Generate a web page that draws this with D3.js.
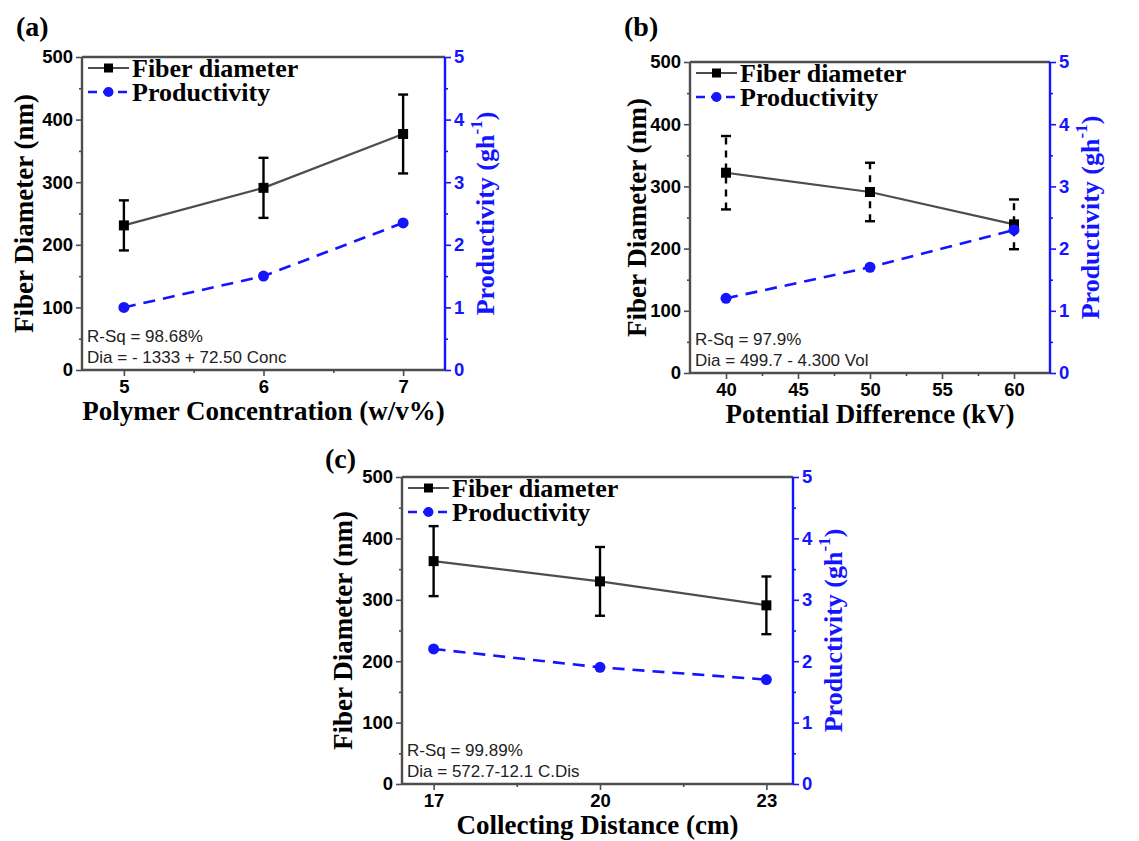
<!DOCTYPE html>
<html>
<head>
<meta charset="utf-8">
<script src="https://cdn.jsdelivr.net/npm/d3@7/dist/d3.min.js"></script>
<style>
  html, body { margin: 0; padding: 0; background: #fff; }
  svg { display: block; }
</style>
</head>
<body>
<svg id="chart" width="1139" height="841"></svg>
<script>
// ---------- data ----------
const panelLabels = ["(a)", "(b)", "(c)"];
const xTitles = ["Polymer Concentration (w/v%)", "Potential Difference (kV)", "Collecting Distance (cm)"];
const yTitle = "Fiber Diameter (nm)";
const yRightTitle = "Productivity (gh";
const legendLabels = ["Fiber diameter", "Productivity"];

const concA = [5, 6, 7];
const diamA = [231, 291, 377];
const errA = [40, 48, 63];
const prodA = [1.0, 1.5, 2.35];
const rsqA = "R-Sq = 98.68%";
const eqA = "Dia = - 1333 + 72.50 Conc";

const voltB = [40, 50, 60];
const diamB = [322, 291, 239];
const errB = [59, 47, 40];
const prodB = [1.2, 1.7, 2.3];
const rsqB = "R-Sq = 97.9%";
const eqB = "Dia = 499.7 - 4.300 Vol";

const distC = [17, 20, 23];
const diamC = [363, 330, 291];
const errC = [57, 56, 47];
const prodC = [2.2, 1.9, 1.7];
const rsqC = "R-Sq = 99.89%";
const eqC = "Dia = 572.7-12.1 C.Dis";

const yTicks = [0, 100, 200, 300, 400, 500];
const yMinor = [50, 150, 250, 350, 450];
const yRightTicks = [0, 1, 2, 3, 4, 5];
const yRightMinor = [0.5, 1.5, 2.5, 3.5, 4.5];
const xTicksA = [5, 6, 7];
const xMinorA = [5.5, 6.5];
const xTicksB = [40, 45, 50, 55, 60];
const xMinorB = [42.5, 47.5, 52.5, 57.5];
const xTicksC = [17, 20, 23];
const xMinorC = [18.5, 21.5];

// ---------- layout ----------
const panels = [
  { label: panelLabels[0], lx: 16, ly: 36, left: 82, right: 445, top: 57, bottom: 370, xd: [4.7, 7.3], ytOff: 58,
    x: concA, d: diamA, e: errA, p: prodA, xt: xTicksA, xm: xMinorA, xTitle: xTitles[0], rsq: rsqA, eq: eqA, dashedErr: false },
  { label: panelLabels[1], lx: 624, ly: 36, left: 690, right: 1050, top: 62, bottom: 373, xd: [37.5, 62.5], ytOff: 53,
    x: voltB, d: diamB, e: errB, p: prodB, xt: xTicksB, xm: xMinorB, xTitle: xTitles[1], rsq: rsqB, eq: eqB, dashedErr: true },
  { label: panelLabels[2], lx: 325, ly: 468, left: 402, right: 793, top: 477, bottom: 784, xd: [16.43, 23.48], ytOff: 59,
    x: distC, d: diamC, e: errC, p: prodC, xt: xTicksC, xm: xMinorC, xTitle: xTitles[2], rsq: rsqC, eq: eqC, dashedErr: false }
];

const svg = d3.select("#chart");
const GRAY = "#4d4d4d";
const BLUE = "#1414ff";
const SERIF = "'Liberation Serif', 'Times New Roman', serif";
const SANS = "'Liberation Sans', Arial, sans-serif";

function styleAxis(g, color) {
  g.select(".domain").remove();
  g.selectAll(".tick line").attr("stroke", color).attr("stroke-width", 1.6);
  g.selectAll(".tick text").attr("fill", color).attr("font-family", SANS)
    .attr("font-weight", "bold").attr("font-size", 18.5);
}

panels.forEach(P => {
  const x = d3.scaleLinear().domain(P.xd).range([P.left, P.right]);
  const y = d3.scaleLinear().domain([0, 500]).range([P.bottom, P.top]);
  const y2 = d3.scaleLinear().domain([0, 5]).range([P.bottom, P.top]);
  const g = svg.append("g");

  // panel label
  g.append("text").attr("x", P.lx).attr("y", P.ly).text(P.label)
    .attr("font-family", SERIF).attr("font-weight", "bold").attr("font-size", 28).attr("fill", "#000");

  // axes: ticks
  const gl = g.append("g").attr("transform", `translate(${P.left},0)`)
    .call(d3.axisLeft(y).tickValues(yTicks).tickSize(6).tickPadding(3).tickFormat(d3.format("d")));
  styleAxis(gl, "#000");
  gl.selectAll(".tick line").attr("stroke", GRAY);
  const glm = g.append("g").attr("transform", `translate(${P.left},0)`)
    .call(d3.axisLeft(y).tickValues(yMinor).tickSize(3).tickFormat(""));
  styleAxis(glm, GRAY);

  const gr = g.append("g").attr("transform", `translate(${P.right},0)`)
    .call(d3.axisRight(y2).tickValues(yRightTicks).tickSize(6).tickPadding(3).tickFormat(d3.format("d")));
  styleAxis(gr, BLUE);
  const grm = g.append("g").attr("transform", `translate(${P.right},0)`)
    .call(d3.axisRight(y2).tickValues(yRightMinor).tickSize(3).tickFormat(""));
  styleAxis(grm, BLUE);

  const gb = g.append("g").attr("transform", `translate(0,${P.bottom})`)
    .call(d3.axisBottom(x).tickValues(P.xt).tickSize(6).tickPadding(4).tickFormat(d3.format("d")));
  styleAxis(gb, "#000");
  gb.selectAll(".tick line").attr("stroke", GRAY);
  const gbm = g.append("g").attr("transform", `translate(0,${P.bottom})`)
    .call(d3.axisBottom(x).tickValues(P.xm).tickSize(3).tickFormat(""));
  styleAxis(gbm, GRAY);

  // frame lines
  g.append("line").attr("x1", P.left).attr("x2", P.right).attr("y1", P.top).attr("y2", P.top)
    .attr("stroke", GRAY).attr("stroke-width", 2.4);
  g.append("line").attr("x1", P.left).attr("x2", P.right).attr("y1", P.bottom).attr("y2", P.bottom)
    .attr("stroke", GRAY).attr("stroke-width", 2.4);
  g.append("line").attr("x1", P.left).attr("x2", P.left).attr("y1", P.top).attr("y2", P.bottom)
    .attr("stroke", GRAY).attr("stroke-width", 2.4);
  g.append("line").attr("x1", P.right).attr("x2", P.right).attr("y1", P.top).attr("y2", P.bottom)
    .attr("stroke", BLUE).attr("stroke-width", 2.4);

  // axis titles
  const cy = (P.top + P.bottom) / 2;
  g.append("text").attr("transform", `translate(${P.left - P.ytOff},${cy}) rotate(-90)`)
    .attr("text-anchor", "middle").attr("dominant-baseline", "central").text(yTitle)
    .attr("font-family", SERIF).attr("font-weight", "bold").attr("font-size", 27).attr("fill", "#000");
  const rt = g.append("text").attr("transform", `translate(${P.right + 40},${cy}) rotate(-90)`)
    .attr("text-anchor", "middle").attr("dominant-baseline", "central")
    .attr("font-family", SERIF).attr("font-weight", "bold").attr("font-size", 26).attr("fill", BLUE);
  rt.append("tspan").text(yRightTitle);
  rt.append("tspan").attr("dy", -9).attr("font-size", 17).text("-1");
  rt.append("tspan").attr("dy", 9).text(")");

  g.append("text").attr("x", (P.left + P.right) / 2).attr("y", P.bottom + 50)
    .attr("text-anchor", "middle").text(P.xTitle)
    .attr("font-family", SERIF).attr("font-weight", "bold").attr("font-size", 27).attr("fill", "#000");

  // data
  const pts = P.x.map((v, i) => ({ x: v, d: P.d[i], e: P.e[i], p: P.p[i] }));

  // productivity dashed line
  g.append("path").datum(pts)
    .attr("d", d3.line().x(q => x(q.x)).y(q => y2(q.p)))
    .attr("fill", "none").attr("stroke", BLUE).attr("stroke-width", 2.6).attr("stroke-dasharray", "12,8");

  // fiber line
  g.append("path").datum(pts)
    .attr("d", d3.line().x(q => x(q.x)).y(q => y(q.d)))
    .attr("fill", "none").attr("stroke", GRAY).attr("stroke-width", 2.2);

  // error bars
  const eb = g.append("g").selectAll("g").data(pts).join("g");
  eb.append("line").attr("x1", q => x(q.x)).attr("x2", q => x(q.x))
    .attr("y1", q => y(q.d - q.e)).attr("y2", q => y(q.d + q.e))
    .attr("stroke", "#000").attr("stroke-width", 2.4)
    .attr("stroke-dasharray", P.dashedErr ? "7,6" : null);
  [-1, 1].forEach(s => {
    eb.append("line").attr("x1", q => x(q.x) - 5).attr("x2", q => x(q.x) + 5)
      .attr("y1", q => y(q.d + s * q.e)).attr("y2", q => y(q.d + s * q.e))
      .attr("stroke", "#000").attr("stroke-width", 2.4);
  });

  // markers
  g.append("g").selectAll("rect").data(pts).join("rect")
    .attr("x", q => x(q.x) - 5).attr("y", q => y(q.d) - 5).attr("width", 10).attr("height", 10)
    .attr("fill", "#000");
  g.append("g").selectAll("circle").data(pts).join("circle")
    .attr("cx", q => x(q.x)).attr("cy", q => y2(q.p)).attr("r", 5.5).attr("fill", BLUE);

  // legend
  const lx0 = P.left + 6, lx1 = P.left + 47;
  const r1 = P.top + 11, r2 = P.top + 35;
  g.append("line").attr("x1", lx0).attr("x2", lx1).attr("y1", r1).attr("y2", r1)
    .attr("stroke", GRAY).attr("stroke-width", 2);
  g.append("rect").attr("x", (lx0 + lx1) / 2 - 4.5).attr("y", r1 - 4.5).attr("width", 9).attr("height", 9).attr("fill", "#000");
  g.append("line").attr("x1", lx0).attr("x2", lx1).attr("y1", r2).attr("y2", r2)
    .attr("stroke", BLUE).attr("stroke-width", 2.4).attr("stroke-dasharray", "9,6");
  g.append("circle").attr("cx", (lx0 + lx1) / 2).attr("cy", r2).attr("r", 5).attr("fill", BLUE);
  g.append("text").attr("x", lx1 + 3).attr("y", r1 + 9).text(legendLabels[0])
    .attr("font-family", SERIF).attr("font-weight", "bold").attr("font-size", 26).attr("fill", "#000");
  g.append("text").attr("x", lx1 + 3).attr("y", r2 + 9).text(legendLabels[1])
    .attr("font-family", SERIF).attr("font-weight", "bold").attr("font-size", 26).attr("fill", "#000");

  // regression annotation
  g.append("text").attr("x", P.left + 5).attr("y", P.bottom - 28).text(P.rsq)
    .attr("font-family", SANS).attr("font-size", 17).attr("fill", "#222");
  g.append("text").attr("x", P.left + 5).attr("y", P.bottom - 7).text(P.eq)
    .attr("font-family", SANS).attr("font-size", 17).attr("fill", "#222");
});
</script>
</body>
</html>
